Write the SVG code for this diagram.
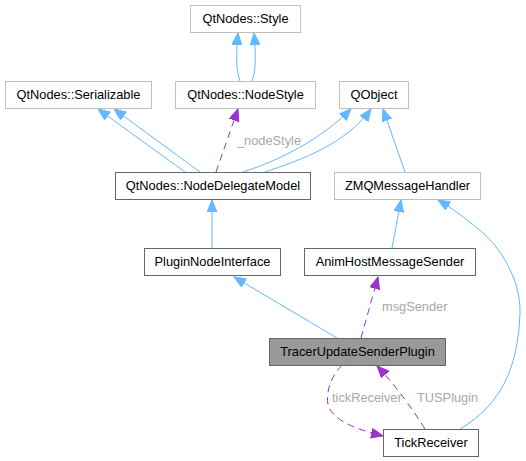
<svg xmlns="http://www.w3.org/2000/svg" width="526" height="461" viewBox="0 0 526 461">
<style>
.nl rect{fill:#fff;stroke:#bfbfbf;stroke-width:1}
.nd rect{fill:#fff;stroke:#666;stroke-width:1}
.nf rect{fill:#999;stroke:#666;stroke-width:1}
text{font-family:"Liberation Sans",Arial,sans-serif;font-size:12.8px;fill:#000;text-anchor:middle}
.lbl{fill:#a8a8a8;text-anchor:start}
.eb{fill:none;stroke:#63b8ff;stroke-width:1}
.ep{fill:none;stroke:#9a32cd;stroke-width:1;stroke-dasharray:7,5}
</style>
<defs>
<marker id="ab" markerUnits="userSpaceOnUse" markerWidth="14" markerHeight="12" refX="12" refY="5" orient="auto"><path d="M0,0 L12,5 L0,10 z" fill="#63b8ff" stroke="#63b8ff"/></marker>
<marker id="ap" markerUnits="userSpaceOnUse" markerWidth="14" markerHeight="12" refX="12" refY="5" orient="auto"><path d="M0,0 L12,5 L0,10 z" fill="#9a32cd" stroke="#9a32cd"/></marker>
</defs>
<rect width="526" height="461" fill="#fff"/>
<g id="edges">
<path class="eb" d="M240,81 C236,70 236,55 238,33" marker-end="url(#ab)"/>
<path class="eb" d="M252,81 C256,70 256,55 254,33" marker-end="url(#ab)"/>
<path class="eb" d="M185,172 L98,109" marker-end="url(#ab)"/>
<path class="eb" d="M200,172 L114,109" marker-end="url(#ab)"/>
<path class="eb" d="M243,172 C280,160 320,140 351,109" marker-end="url(#ab)"/>
<path class="eb" d="M265,172 C300,160 345,145 371,109" marker-end="url(#ab)"/>
<path class="ep" d="M216,172 L238,109" marker-end="url(#ap)"/>
<path class="eb" d="M405,172 L383,109" marker-end="url(#ab)"/>
<path class="eb" d="M212,248 L212,200" marker-end="url(#ab)"/>
<path class="eb" d="M392,248 L401,200" marker-end="url(#ab)"/>
<path class="eb" d="M460,429 C500,405 518,370 520,313 C521,280 500,245 477,228 C465,218 455,210 438,200" marker-end="url(#ab)"/>
<path class="eb" d="M337,338 L234,277" marker-end="url(#ab)"/>
<path class="ep" d="M361,338 L378,277" marker-end="url(#ap)"/>
<path class="ep" d="M342,365 C330,378 326,392 328,405 C332,418 350,428 383,436" marker-end="url(#ap)"/>
<path class="ep" d="M425,429 C410,405 395,385 377,366" marker-end="url(#ap)"/>
<text class="lbl" x="237" y="145">_nodeStyle</text>
<text class="lbl" x="382" y="311">msgSender</text>
<text class="lbl" x="332" y="402">tickReceiver</text>
<text class="lbl" x="417" y="402">TUSPlugin</text>
</g>
<g id="style" class="nl"><rect x="190.5" y="5.5" width="110" height="27"/><text x="245.5" y="23">QtNodes::Style</text></g>
<g id="serializable" class="nl"><rect x="5.5" y="81.5" width="146" height="27"/><text x="78.5" y="99">QtNodes::Serializable</text></g>
<g id="nodestyle" class="nl"><rect x="175.5" y="81.5" width="140" height="27"/><text x="245.5" y="99">QtNodes::NodeStyle</text></g>
<g id="qobject" class="nl"><rect x="339.5" y="81.5" width="69" height="27"/><text x="374" y="99">QObject</text></g>
<g id="nodedelegatemodel" class="nd"><rect x="115.5" y="172.5" width="195" height="27"/><text x="213" y="190">QtNodes::NodeDelegateModel</text></g>
<g id="zmqmessagehandler" class="nl"><rect x="334.5" y="172.5" width="146" height="27"/><text x="407.5" y="190">ZMQMessageHandler</text></g>
<g id="pluginnodeinterface" class="nd"><rect x="144.5" y="248.5" width="136" height="27"/><text x="212.5" y="266">PluginNodeInterface</text></g>
<g id="animhostmessagesender" class="nd"><rect x="304.5" y="248.5" width="171" height="27"/><text x="390" y="266">AnimHostMessageSender</text></g>
<g id="tracerupdatesenderplugin" class="nf"><rect x="269.5" y="338.5" width="176" height="27"/><text x="357.5" y="356">TracerUpdateSenderPlugin</text></g>
<g id="tickreceiver" class="nd"><rect x="383.5" y="429.5" width="95" height="27"/><text x="431" y="447">TickReceiver</text></g>
</svg>
